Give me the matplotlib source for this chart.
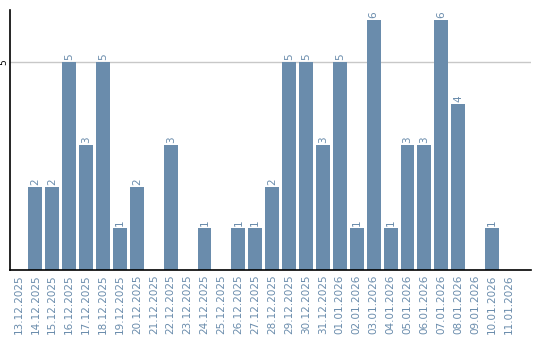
import matplotlib
matplotlib.use("Agg")
import matplotlib.pyplot as plt
import numpy as np

# Daten
dates = ["13.12.2025", "14.12.2025", "15.12.2025", "16.12.2025", "17.12.2025",
         "18.12.2025", "19.12.2025", "20.12.2025", "21.12.2025", "22.12.2025",
         "23.12.2025", "24.12.2025", "25.12.2025", "26.12.2025", "27.12.2025",
         "28.12.2025", "29.12.2025", "30.12.2025", "31.12.2025", "01.01.2026",
         "02.01.2026", "03.01.2026", "04.01.2026", "05.01.2026", "06.01.2026",
         "07.01.2026", "08.01.2026", "09.01.2026", "10.01.2026", "11.01.2026"]
counts = [0, 2, 2, 5, 3, 5, 1, 2, 0, 3, 0, 1, 0, 1, 1,
          2, 5, 5, 3, 5, 1, 6, 1, 3, 3, 6, 4, 0, 1, 0]

bar_color = "#6a8cac"
text_color = "#6a8cac"

fig = plt.figure(figsize=(5.4, 3.4), dpi=100)
ax = fig.add_axes([10 / 540, 70 / 340, 521 / 540, 260 / 340])

x = np.arange(len(dates))
ax.bar(x, counts, width=0.82, color=bar_color, zorder=2)

# Werte über den Balken (0 weglassen)
for xi, v in zip(x, counts):
    if v > 0:
        ax.text(xi, v + 0.05, str(v), rotation=90, ha="center", va="bottom",
                fontsize=7.5, color=text_color)

ax.set_xlim(-0.5, len(dates) - 0.5 + 0.8)
ax.set_ylim(0, 6.25)
ax.set_xticks(x)
ax.set_xticklabels(dates, rotation=90, fontsize=7.5, color=text_color)
ax.set_yticks([5])
ax.set_yticklabels(["5"], rotation=90, fontsize=6.5, va="center")
ax.tick_params(axis="both", length=0, pad=3)
ax.tick_params(axis="y", pad=1)
ax.grid(axis="y", color="#c8c8c8", linewidth=1, zorder=0)

for s in ["top", "right"]:
    ax.spines[s].set_visible(False)
ax.spines["left"].set_color("black")
ax.spines["bottom"].set_color("black")
ax.spines["left"].set_linewidth(1.2)
ax.spines["bottom"].set_linewidth(1.2)

fig.savefig("out.png", dpi=100)
